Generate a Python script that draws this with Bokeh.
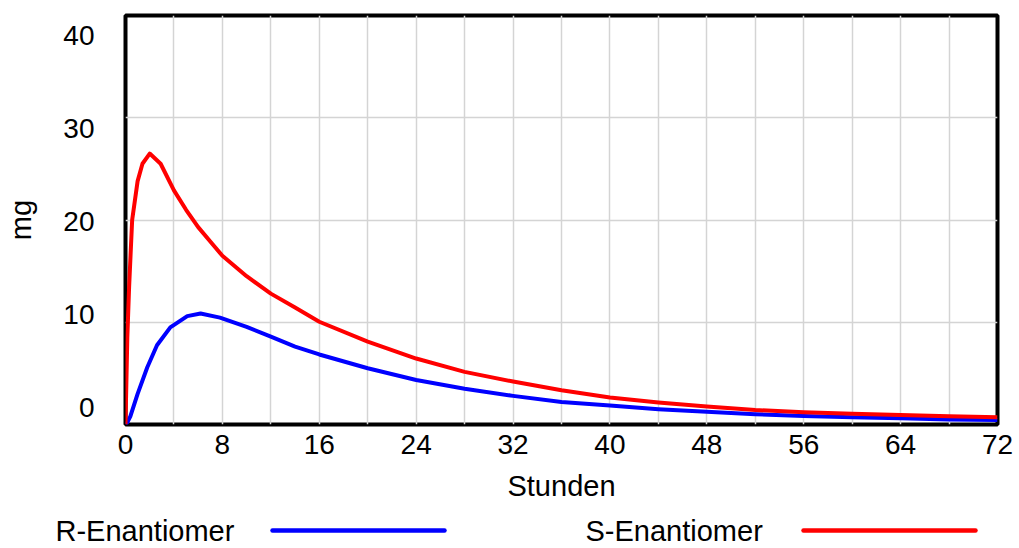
from bokeh.plotting import figure
from bokeh.models import Range1d, LinearAxis, SingleIntervalTicker, FixedTicker
from bokeh.embed import file_html
from bokeh.resources import INLINE
from bokeh.core.properties import value

# ---- data ----
t_r = [0, 0.15, 0.4, 1.0, 1.8, 2.6, 3.7, 5.1, 6.2, 7.8, 10, 12, 14, 16, 20, 24,
       28, 32, 36, 40, 44, 48, 52, 56, 60, 64, 68, 72]
r_mg = [0, 0.2, 0.8, 3.0, 5.6, 7.75, 9.5, 10.6, 10.85, 10.45, 9.55, 8.6, 7.62, 6.85,
        5.5, 4.35, 3.5, 2.8, 2.2, 1.85, 1.5, 1.25, 1.0, 0.83, 0.72, 0.6, 0.5, 0.44]

t_s = [0, 0.15, 0.3, 0.55, 1.0, 1.4, 2.0, 2.9, 4, 5, 6, 7, 8, 10, 12, 14, 16, 20,
       24, 28, 32, 36, 40, 44, 48, 52, 56, 60, 64, 68, 72]
s_mg = [0, 8.5, 13.5, 20, 23.8, 25.5, 26.5, 25.5, 22.9, 21.0, 19.3, 17.9, 16.5,
        14.5, 12.8, 11.45, 10.05, 8.1, 6.45, 5.15, 4.2, 3.35, 2.65, 2.15, 1.75, 1.42,
        1.2, 1.05, 0.93, 0.8, 0.7]

series_names = ["R-Enantiomer", "S-Enantiomer"]
series_colors = ["#0000ff", "#ff0000"]
x_ticks = list(range(0, 73, 8))
y_ticks = [0, 10, 20, 30, 40]
x_label = "Stunden"
y_label = "mg"

FONT = "Liberation Sans"

# ---- main chart ----
W, H = 1017, 507
BL, BR, BT, BB = 125, 20, 15, 83

p = figure(width=W, height=H,
           x_range=Range1d(0, 72), y_range=Range1d(0, 40),
           output_backend="svg", toolbar_location=None,
           min_border_left=BL, min_border_right=BR,
           min_border_top=BT, min_border_bottom=BB)
p.background_fill_color = "white"
p.border_fill_color = "white"
p.outline_line_color = "black"
p.outline_line_width = 4

# grids
p.xgrid.ticker = SingleIntervalTicker(interval=4)
p.ygrid.ticker = SingleIntervalTicker(interval=10)
for g in (p.xgrid, p.ygrid):
    g.grid_line_color = "#d4d4d4"
    g.grid_line_width = 1.5

# x axis
xa = p.xaxis[0]
xa.ticker = FixedTicker(ticks=x_ticks)
xa.axis_line_color = None
xa.major_tick_line_color = None
xa.minor_tick_line_color = None
xa.major_label_standoff = 4
xa.major_label_text_font = FONT
xa.major_label_text_font_size = "28px"
xa.major_label_text_color = "black"
xa.axis_label = x_label
xa.axis_label_text_font = FONT
xa.axis_label_text_font_size = "29px"
xa.axis_label_text_font_style = "normal"
xa.axis_label_text_color = "black"
xa.axis_label_standoff = 13

# y axis: labels spread over a slightly different range (as in reference)
p.yaxis[0].visible = False
p.extra_y_ranges = {"lab": Range1d(-1.828, 42.15)}
ya = LinearAxis(y_range_name="lab", ticker=FixedTicker(ticks=y_ticks))
ya.axis_line_color = None
ya.major_tick_line_color = None
ya.minor_tick_line_color = None
ya.major_label_standoff = 25
ya.major_label_text_font = FONT
ya.major_label_text_font_size = "28px"
ya.major_label_text_color = "black"
ya.axis_label = y_label
ya.axis_label_text_font = FONT
ya.axis_label_text_font_size = "29px"
ya.axis_label_text_font_style = "normal"
ya.axis_label_text_color = "black"
ya.axis_label_standoff = 23
p.add_layout(ya, "left")

p.line(t_r, r_mg, line_color=series_colors[0], line_width=4, line_join="round")
p.line(t_s, s_mg, line_color=series_colors[1], line_width=4, line_join="round")

# ---- legend strip (separate root, coordinates = page pixels) ----
LH = 40
leg = figure(width=W, height=LH, x_range=Range1d(0, W), y_range=Range1d(0, LH),
             output_backend="svg", toolbar_location=None,
             x_axis_location=None, y_axis_location=None, min_border=0)
leg.outline_line_color = None
leg.background_fill_color = "white"
leg.border_fill_color = "white"
leg.xgrid.visible = False
leg.ygrid.visible = False
leg_y = 17
leg_text_x = [55, 585]
leg_line_x = [(272, 444), (803, 975)]
leg.text(x=leg_text_x, y=[leg_y] * 2, text=series_names,
         text_font=value(FONT), text_font_size="29px", text_color="black",
         text_baseline="middle", text_align="left")
for (x0, x1), c in zip(leg_line_x, series_colors):
    leg.line([x0, x1], [leg_y, leg_y], line_color=c, line_width=4.5, line_cap="round")

open("out.html", "w").write(file_html([p, leg], INLINE))
